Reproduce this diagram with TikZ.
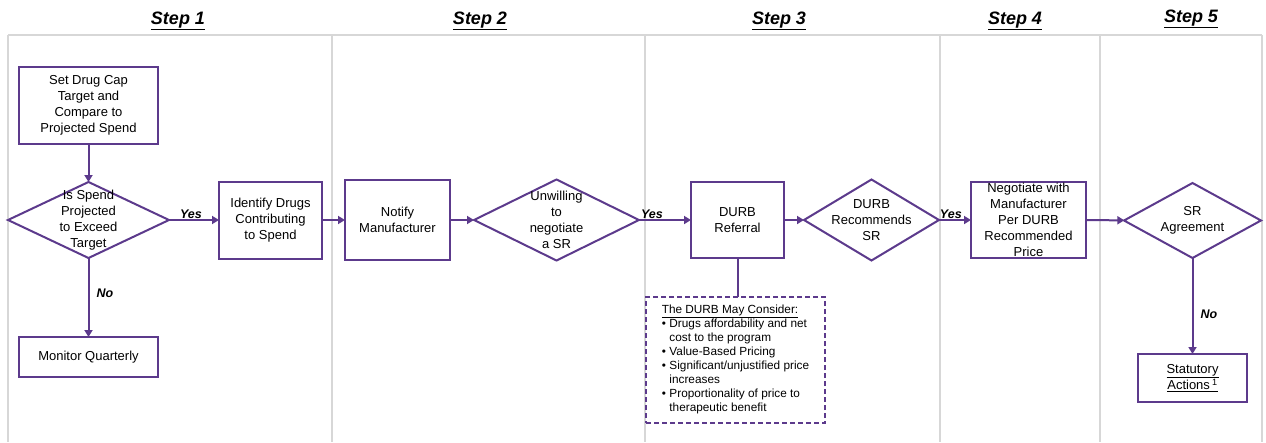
\documentclass[tikz,border=0pt]{standalone}
\usepackage{fontspec}
\setmainfont{Liberation Sans}
\usetikzlibrary{arrows.meta,shapes.geometric}
\definecolor{pur}{RGB}{92,58,140}
\definecolor{frame}{RGB}{215,215,215}
\begin{document}
\begin{tikzpicture}[x=1pt,y=-1pt,
  every node/.style={inner sep=0pt, outer sep=0pt},
  txt/.style={font=\fontsize{13}{16}\selectfont, align=center, text=black},
  box/.style={draw=pur, line width=2pt, fill=white, txt},
  dia/.style={shape=diamond, draw=pur, line width=2pt, fill=white},
  flow/.style={draw=pur, line width=2pt, -{Triangle[width=8pt,length=7pt]}},
  lab/.style={font=\fontsize{12.5}{14}\selectfont\bfseries\itshape, inner sep=1pt},
  steptitle/.style={font=\fontsize{18}{20}\selectfont\bfseries\itshape},
  grid/.style={draw=frame, line width=1.6pt}
]
\useasboundingbox (0,0) rectangle (1266,442);

% frame
\draw[grid] (8,35) -- (1262,35);
\foreach \xx in {8,332,645,940,1100,1262}{
  \draw[grid] (\xx,35) -- (\xx,442);
}

% step titles
\node[steptitle] (s1) at (178,21) {\underline{Step 1}};
\node[steptitle] (s2) at (480,21) {\underline{Step 2}};
\node[steptitle] (s3) at (779,21) {\underline{Step 3}};
\node[steptitle] (s4) at (1015,21) {\underline{Step 4}};
\node[steptitle] (s5) at (1191,19) {\underline{Step 5}};

% step 1
\node[box, minimum width=139pt, minimum height=77pt] (set) at (88.5,105.5)
  {Set Drug Cap\\Target and\\Compare to\\Projected Spend};
\node[dia, minimum width=161pt, minimum height=76pt,
  label={[txt]center:Is Spend\\Projected\\to Exceed\\Target}] (isspend) at (88.5,220) {};
\node[box, minimum width=139pt, minimum height=40pt] (mon) at (88.5,357) {Monitor Quarterly};
\node[box, minimum width=103pt, minimum height=77pt] (ident) at (270.5,220)
  {Identify Drugs\\Contributing\\to Spend};

% step 2
\node[box, minimum width=105pt, minimum height=80pt] (notify) at (397.5,220)
  {Notify\\Manufacturer};
\node[dia, minimum width=165pt, minimum height=81pt,
  label={[txt]center:Unwilling\\to\\negotiate\\a SR}] (unw) at (556.5,220) {};

% step 3
\node[box, minimum width=93pt, minimum height=76pt] (durb) at (737.5,220)
  {DURB\\Referral};
\node[draw=pur, line width=1.6pt, dash pattern=on 5pt off 3pt, fill=white,
  minimum width=179pt, minimum height=126pt,
  font=\fontsize{11.8}{14}\selectfont, align=left] (cons) at (735.5,360)
  {\begin{tabular}{@{}l@{\hspace{3.5pt}}l@{}}
   \multicolumn{2}{@{}l@{}}{\underline{The DURB May Consider:}}\\
   \textbullet & Drugs affordability and net\\
               & cost to the program\\
   \textbullet & Value-Based Pricing\\
   \textbullet & Significant/unjustified price\\
               & increases\\
   \textbullet & Proportionality of price to\\
               & therapeutic benefit
   \end{tabular}};
\node[dia, minimum width=135pt, minimum height=81pt,
  label={[txt]center:DURB\\Recommends\\SR}] (rec) at (871.5,220) {};

% step 4
\node[box, minimum width=115pt, minimum height=76pt,
  label={[txt]center:Negotiate with\\Manufacturer\\Per DURB\\Recommended\\Price}] (neg) at (1028.5,220) {};

% step 5
\node[dia, minimum width=137pt, minimum height=75pt,
  label={[txt]center:SR\\Agreement}] (sra) at (1192.5,220.5) {};
\node[box, minimum width=109pt, minimum height=48pt] (stat) at (1192.5,378)
  {\underline{Statutory}\\\underline{Actions\,\textsuperscript{1}}};

% connectors
\draw[flow] (set) -- (isspend);
\draw[flow] (isspend) -- node[lab, right=7pt, pos=0.45] (no1) {No} (mon);
\draw[flow] (isspend) -- node[lab, above, pos=0.44] (yes1) {Yes} (ident);
\draw[flow] (ident) -- (notify);
\draw[flow] (notify) -- (unw);
\draw[flow] (unw) -- node[lab, above, pos=0.25] (yes2) {Yes} (durb);
\draw[pur, line width=2pt] (durb.south) -- (durb.south |- cons.north);
\draw[flow] (durb) -- (rec);
\draw[flow] (rec) -- node[lab, above, pos=0.37] (yes3) {Yes} (neg);
\draw[flow] (neg) -- (sra);
\draw[flow] (sra) -- node[lab, right=7pt, pos=0.59] (no2) {No} (stat);
\end{tikzpicture}
\end{document}
